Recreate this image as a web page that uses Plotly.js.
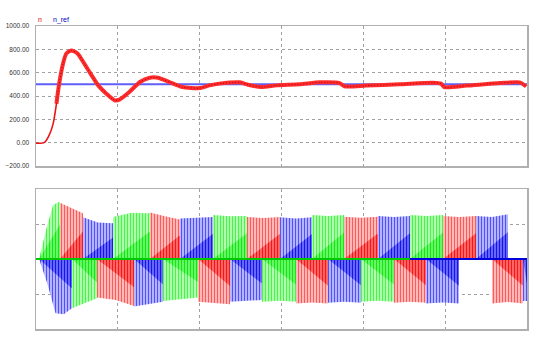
<!DOCTYPE html>
<html><head><meta charset="utf-8">
<script src="https://cdn.plot.ly/plotly-3.0.1.min.js"></script>
<style>html,body{margin:0;padding:0;background:#fff}#chart{width:553px;height:353px}</style>
</head><body><div id="chart"></div>
<script>
// ---- top panel: speed n and reference n_ref (time in grid divisions 0..6) ----
const speedTime = [0, 0.10, 0.16, 0.21, 0.25, 0.28, 0.33, 0.37, 0.43, 0.51, 0.59, 0.68, 0.76, 0.86, 0.96, 1.02, 1.14, 1.27, 1.39, 1.49, 1.63, 1.79, 2.0, 2.12, 2.24, 2.49, 2.59, 2.75, 2.94, 3.22, 3.47, 3.71, 3.77, 4.04, 4.44, 4.85, 4.95, 4.99, 5.26, 5.67, 5.91, 5.99];
const speedN = [-5, 0, 63, 163, 334, 491, 677, 763, 791, 763, 677, 577, 491, 420, 363, 369, 434, 520, 557, 557, 520, 477, 468, 491, 506, 517, 497, 477, 491, 500, 517, 511, 483, 489, 500, 514, 506, 477, 489, 511, 517, 483];
const refTime = [0, 6];
const speedRef = [500, 500];
const seriesNames = ['n', 'n_ref'];

// ---- bottom panel: phase currents, blocks [tStart, tEnd, envelope values...] ----
const redBlocks = [
  [0.293, 0.574, 1.61, 1.46, 1.31],
  [0.745, 1.198, -1.10, -1.17, -1.34],
  [1.393, 1.760, 1.33, 1.22, 1.13],
  [1.980, 2.371, -1.22, -1.25, -1.29],
  [2.578, 2.982, 1.20, 1.17, 1.20],
  [3.177, 3.568, -1.27, -1.24, -1.27],
  [3.764, 4.179, 1.21, 1.18, 1.21],
  [4.375, 4.766, -1.25, -1.22, -1.25],
  [4.974, 5.377, 1.23, 1.20, 1.23],
  [5.572, 5.951, -1.27, -1.23, -1.27]
];
const greenBlocks = [
  [0.037, 0.293, 0, 0.83, 1.54, 1.64],
  [0.440, 0.745, -1.41, -1.27, -1.12],
  [0.941, 1.393, 1.20, 1.32, 1.31],
  [1.552, 1.980, -1.20, -1.15, -1.10],
  [2.163, 2.578, 1.26, 1.22, 1.23],
  [2.762, 3.177, -1.22, -1.19, -1.22],
  [3.373, 3.764, 1.26, 1.23, 1.26],
  [3.972, 4.375, -1.22, -1.19, -1.22],
  [4.570, 4.974, 1.26, 1.23, 1.26]
];
const blueBlocks = [
  [0.037, 0.440, 0, -0.70, -1.55, -1.58, -1.41],
  [0.574, 0.941, 1.19, 1.04, 1.02],
  [1.198, 1.552, -1.36, -1.30, -1.22],
  [1.760, 2.163, 1.16, 1.17, 1.20],
  [2.371, 2.762, -1.22, -1.19, -1.17],
  [2.982, 3.373, 1.19, 1.16, 1.19],
  [3.568, 3.972, -1.25, -1.22, -1.25],
  [4.179, 4.570, 1.23, 1.20, 1.23],
  [4.766, 5.169, -1.27, -1.24, -1.27],
  [5.377, 5.768, 1.23, 1.20, 1.28],
  [5.951, 6.000, -1.20, -1.20]
];

function envelope(blocks) {
  const x = [], y = [];
  blocks.forEach(b => {
    const t0 = b[0], t1 = b[1], v = b.slice(2);
    x.push(t0); y.push(0);
    v.forEach((val, i) => { x.push(t0 + (t1 - t0) * (v.length === 1 ? 0 : i / (v.length - 1))); y.push(val); });
    x.push(t1); y.push(0);
  });
  return {x, y};
}
function core(blocks, k) {
  const x = [], y = [];
  blocks.forEach(b => {
    const t0 = b[0], t1 = b[1], v = b.slice(2);
    x.push(t0); y.push(0);
    x.push(t1); y.push(v[v.length - 1] * k);
    x.push(t1); y.push(0);
  });
  return {x, y};
}

const phases = [
  {blocks: blueBlocks, fg: 'rgb(80,80,255)', bg: 'rgb(215,215,255)', dark: 'rgb(20,20,240)', darkbg: 'rgb(140,140,255)'},
  {blocks: redBlocks, fg: 'rgb(255,90,90)', bg: 'rgb(255,215,215)', dark: 'rgb(250,20,20)', darkbg: 'rgb(255,140,140)'},
  {blocks: greenBlocks, fg: 'rgb(70,245,70)', bg: 'rgb(210,255,210)', dark: 'rgb(20,230,20)', darkbg: 'rgb(140,255,140)'}
];

const traces = [];
traces.push({x: refTime, y: speedRef, xaxis: 'x', yaxis: 'y', mode: 'lines', name: seriesNames[1],
  line: {color: 'rgb(95,95,250)', width: 2}, hoverinfo: 'skip'});
// thin start-up part, then the rippled band
const bandStart = speedTime.findIndex(t => t >= 0.25);
traces.push({x: speedTime, y: speedN, xaxis: 'x', yaxis: 'y', mode: 'lines', showlegend: false,
  line: {color: 'rgb(235,20,20)', width: 1.6, shape: 'spline', smoothing: 0.6}, hoverinfo: 'skip'});
traces.push({x: speedTime.slice(bandStart), y: speedN.slice(bandStart), xaxis: 'x', yaxis: 'y', mode: 'lines', name: seriesNames[0],
  line: {color: 'rgb(255,45,45)', width: 4, shape: 'spline', smoothing: 0.6}, hoverinfo: 'skip'});
traces.push({x: speedTime.slice(bandStart), y: speedN.slice(bandStart), xaxis: 'x', yaxis: 'y', mode: 'lines', showlegend: false,
  line: {color: 'rgb(180,0,0)', width: 1, dash: '1px,2px', shape: 'spline', smoothing: 0.6}, hoverinfo: 'skip'});

phases.forEach(p => {
  const e = envelope(p.blocks);
  traces.push({x: e.x, y: e.y, xaxis: 'x2', yaxis: 'y2', mode: 'lines', fill: 'tozeroy',
    line: {width: 0, color: p.fg}, fillcolor: 'rgba(0,0,0,0)',
    fillpattern: {shape: '|', fgcolor: p.fg, bgcolor: p.bg, size: 3, solidity: 0.5},
    hoverinfo: 'skip', showlegend: false});
  const c = core(p.blocks, 0.6);
  traces.push({x: c.x, y: c.y, xaxis: 'x2', yaxis: 'y2', mode: 'lines', fill: 'tozeroy',
    line: {width: 0, color: p.dark}, fillcolor: 'rgba(0,0,0,0)',
    fillpattern: {shape: '|', fgcolor: p.dark, bgcolor: p.darkbg, size: 3, solidity: 0.55},
    hoverinfo: 'skip', showlegend: false});
});
// zero line of the currents: green while green phase is active, blue afterwards
const greenLast = greenBlocks[greenBlocks.length - 1][0];
traces.push({x: [0, greenLast], y: [0, 0], xaxis: 'x2', yaxis: 'y2', mode: 'lines',
  line: {color: 'rgb(0,200,0)', width: 2}, hoverinfo: 'skip', showlegend: false});
traces.push({x: [greenLast, 6], y: [0, 0], xaxis: 'x2', yaxis: 'y2', mode: 'lines',
  line: {color: 'rgb(0,0,220)', width: 2}, hoverinfo: 'skip', showlegend: false});

const gridStyle = {gridcolor: '#a0a0a0', griddash: 'dot', gridwidth: 1, showline: true, mirror: true,
  linecolor: '#b0b0b0', linewidth: 1.5, zeroline: false, ticks: ''};
const xd = [36 / 553, 527 / 553];
const layout = {
  width: 553, height: 353, margin: {l: 0, r: 0, t: 0, b: 0},
  paper_bgcolor: '#fff', plot_bgcolor: '#fff', showlegend: false,
  font: {family: 'Liberation Sans, Arial, sans-serif', size: 6, color: '#333'},
  xaxis: Object.assign({domain: xd, range: [0, 6], dtick: 1, tick0: 0, showticklabels: false, anchor: 'y'}, gridStyle),
  yaxis: Object.assign({domain: [1 - 166 / 353, 1 - 26 / 353], range: [-200, 1000], dtick: 200, tick0: 0,
    tickformat: '.2f', anchor: 'x', ticklabelstandoff: 4, tickfont: {size: 6.5, color: '#333'}}, gridStyle),
  xaxis2: Object.assign({domain: xd, range: [0, 6], dtick: 1, tick0: 0, showticklabels: false, anchor: 'y2'}, gridStyle),
  yaxis2: Object.assign({domain: [1 - 329 / 353, 1 - 189 / 353], range: [-2, 2], dtick: 1, tick0: 0,
    showticklabels: false, anchor: 'x2'}, gridStyle),
  annotations: [
    {text: seriesNames[0], xref: 'paper', yref: 'paper', x: 36 / 553, y: 1 - 19.5 / 353, xanchor: 'left', yanchor: 'middle',
      showarrow: false, font: {size: 7, color: 'rgb(220,0,0)'}},
    {text: seriesNames[1], xref: 'paper', yref: 'paper', x: 50.5 / 553, y: 1 - 19.5 / 353, xanchor: 'left', yanchor: 'middle',
      showarrow: false, font: {size: 7, color: 'rgb(0,0,200)'}}
  ]
};
Plotly.newPlot('chart', traces, layout, {staticPlot: true, displayModeBar: false});
</script>
</body></html>
